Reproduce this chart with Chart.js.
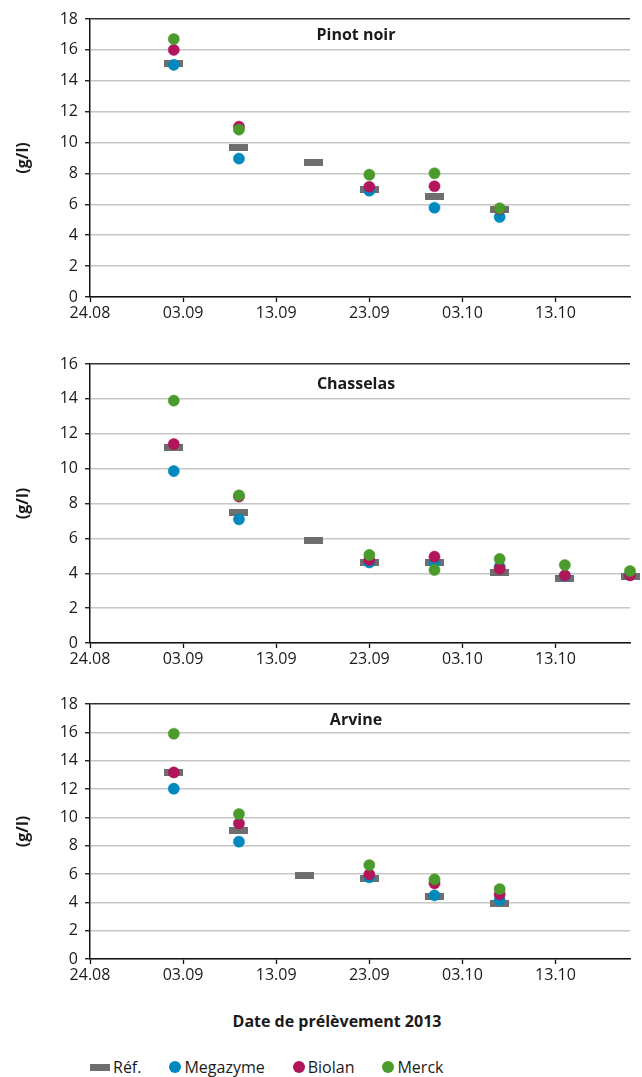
<!DOCTYPE html>
<html><head><meta charset="utf-8">
<script src="https://cdn.jsdelivr.net/npm/chart.js@4.4.0/dist/chart.umd.min.js"></script>
<style>
body{margin:0;background:#fff;width:642px;height:1077px;position:relative;overflow:hidden;font-family:"Open Sans",sans-serif;color:#1a1a1a}
.wrap{position:absolute;left:0;width:642px}
.pt{position:absolute;font-weight:bold;font-size:16px;transform:translate(-50%,-50%);white-space:nowrap;line-height:1}
#xtitle{position:absolute;left:337px;top:1021px;font-weight:bold;font-size:16px;transform:translate(-50%,-50%);white-space:nowrap;line-height:1}
#legend{position:absolute;left:90px;top:1067px;transform:translateY(-50%);display:flex;align-items:center;font-size:16px;line-height:1;white-space:nowrap}
#legend .it{display:flex;align-items:center;margin-right:28px}
#legend .sw{margin-right:3px}
</style>
</head><body>
<div class="wrap" style="top:0;height:330px"><canvas id="c1"></canvas></div>
<div class="wrap" style="top:340px;height:336px"><canvas id="c2"></canvas></div>
<div class="wrap" style="top:680px;height:312px"><canvas id="c3"></canvas></div>
<div class="pt" style="left:356px;top:34px">Pinot noir</div>
<div class="pt" style="left:356px;top:383px">Chasselas</div>
<div class="pt" style="left:356px;top:719px">Arvine</div>
<div id="xtitle">Date de prélèvement 2013</div>
<div id="legend"></div>
<script>
// ---- data ----
const xStartDate = '2013-08-24';
const xMaxDate = '2013-10-21';
const xTickDates = ['2013-08-24','2013-09-03','2013-09-13','2013-09-23','2013-10-03','2013-10-13'];
const xTickLabels = ['24.08','03.09','13.09','23.09','03.10','13.10'];
const seriesNames = ['Réf.','Megazyme','Biolan','Merck'];
const seriesColors = ['#6e6e6e','#0089bf','#b1155a','#4a9b2c'];

const pinotDates = ['2013-09-02','2013-09-09','2013-09-17','2013-09-23','2013-09-30','2013-10-07'];
const pinotRef = [15.15, 9.67, 8.74, 6.93, 6.5, 5.65];
const pinotMegazyme = [15.03, 8.96, null, 6.88, 5.78, 5.18];
const pinotBiolan = [16.0, 11.03, null, 7.14, 7.17, 5.7];
const pinotMerck = [16.7, 10.84, null, 7.92, 8.01, 5.74];

const chasselasDates = ['2013-09-02','2013-09-09','2013-09-17','2013-09-23','2013-09-30','2013-10-07','2013-10-14','2013-10-21'];
const chasselasRef = [11.2, 7.47, 5.85, 4.6, 4.6, 4.03, 3.69, 3.8];
const chasselasMegazyme = [9.86, 7.09, null, 4.62, 4.62, 4.38, 3.85, 3.9];
const chasselasBiolan = [11.41, 8.4, null, 4.76, 4.95, 4.26, 3.88, 3.88];
const chasselasMerck = [13.9, 8.47, null, 5.05, 4.19, 4.82, 4.47, 4.13];

const arvineDates = ['2013-09-02','2013-09-09','2013-09-16','2013-09-23','2013-09-30','2013-10-07'];
const arvineRef = [13.2, 9.06, 5.86, 5.67, 4.4, 3.9];
const arvineMegazyme = [12.02, 8.28, null, 5.76, 4.49, 4.16];
const arvineBiolan = [13.17, 9.57, null, 5.97, 5.34, 4.56];
const arvineMerck = [15.9, 10.23, null, 6.63, 5.62, 4.94];

const yMaxes = [18, 16, 18];

// ---- helpers ----
const DAY = 86400000;
const dayOf = d => (Date.parse(d + 'T00:00:00Z') - Date.parse(xStartDate + 'T00:00:00Z')) / DAY;
const xTickDays = xTickDates.map(dayOf);
const xMax = dayOf(xMaxDate);

function refCanvas(){
  const c = document.createElement('canvas');
  c.width = 19; c.height = 7;
  const g = c.getContext('2d');
  g.fillStyle = seriesColors[0];
  g.fillRect(0,0,19,7);
  return c;
}
const refStyle = refCanvas();

const FONT = "'Open Sans', sans-serif";
Chart.defaults.font.family = FONT;
Chart.defaults.font.size = 16;
Chart.defaults.color = '#1a1a1a';

function makeChart(id, dates, series, yMax, padTop){
  const datasets = series.map((vals, si) => ({
    label: seriesNames[si],
    data: dates.map((d, i) => vals[i] == null ? null : {x: dayOf(d), y: vals[i]}).filter(p => p),
    pointStyle: si === 0 ? refStyle : 'circle',
    pointRadius: si === 0 ? 10 : 5.6,
    pointBackgroundColor: seriesColors[si],
    pointBorderColor: seriesColors[si],
    pointBorderWidth: 0.5,
    showLine: false,
    clip: false,
    order: 4 - si
  }));
  return new Chart(document.getElementById(id), {
    type: 'scatter',
    data: {datasets},
    options: {
      responsive: true,
      maintainAspectRatio: false,
      animation: false,
      events: [],
      layout: {padding: {top: padTop, right: 12, left: 0, bottom: 0}},
      plugins: {legend: {display: false}, tooltip: {enabled: false}},
      scales: {
        x: {
          type: 'linear', min: 0, max: xMax,
          afterBuildTicks: s => { s.ticks = xTickDays.map(v => ({value: v})); },
          afterFit: s => { s.height = 33; },
          ticks: {autoSkip: false, maxRotation: 0, padding: 2, callback: (v, i) => xTickLabels[i], color: '#1a1a1a'},
          grid: {drawOnChartArea: false, drawTicks: true, tickLength: 5, tickColor: '#111', tickWidth: 1.3},
          border: {color: '#111', width: 1.5}
        },
        y: {
          min: 0, max: yMax,
          afterFit: s => { s.width = 90; },
          ticks: {stepSize: 2, padding: 7, color: '#1a1a1a'},
          grid: {
            color: c => c.tick && c.tick.value === yMax ? '#333' : '#c6c6c6',
            lineWidth: 1.5, tickLength: 5, tickColor: '#111', tickWidth: 1.3
          },
          border: {color: '#111', width: 1.5},
          title: {display: true, text: '(g/l)', font: {weight: 'bold', size: 16}, padding: {top: 14, bottom: 0}, color: '#1a1a1a'}
        }
      }
    }
  });
}

makeChart('c1', pinotDates, [pinotRef, pinotMegazyme, pinotBiolan, pinotMerck], yMaxes[0], 19);
makeChart('c2', chasselasDates, [chasselasRef, chasselasMegazyme, chasselasBiolan, chasselasMerck], yMaxes[1], 24);
makeChart('c3', arvineDates, [arvineRef, arvineMegazyme, arvineBiolan, arvineMerck], yMaxes[2], 24);

// ---- legend ----
const lg = document.getElementById('legend');
seriesNames.forEach((n, i) => {
  const it = document.createElement('div'); it.className = 'it';
  const sw = document.createElement('span'); sw.className = 'sw';
  if (i === 0) { sw.style.cssText = 'display:inline-block;width:20px;height:7px;background:' + seriesColors[0]; }
  else { sw.style.cssText = 'display:inline-block;width:12px;height:12px;border-radius:50%;background:' + seriesColors[i]; }
  const tx = document.createElement('span'); tx.textContent = n;
  it.appendChild(sw); it.appendChild(tx); lg.appendChild(it);
});
</script>
</body></html>
